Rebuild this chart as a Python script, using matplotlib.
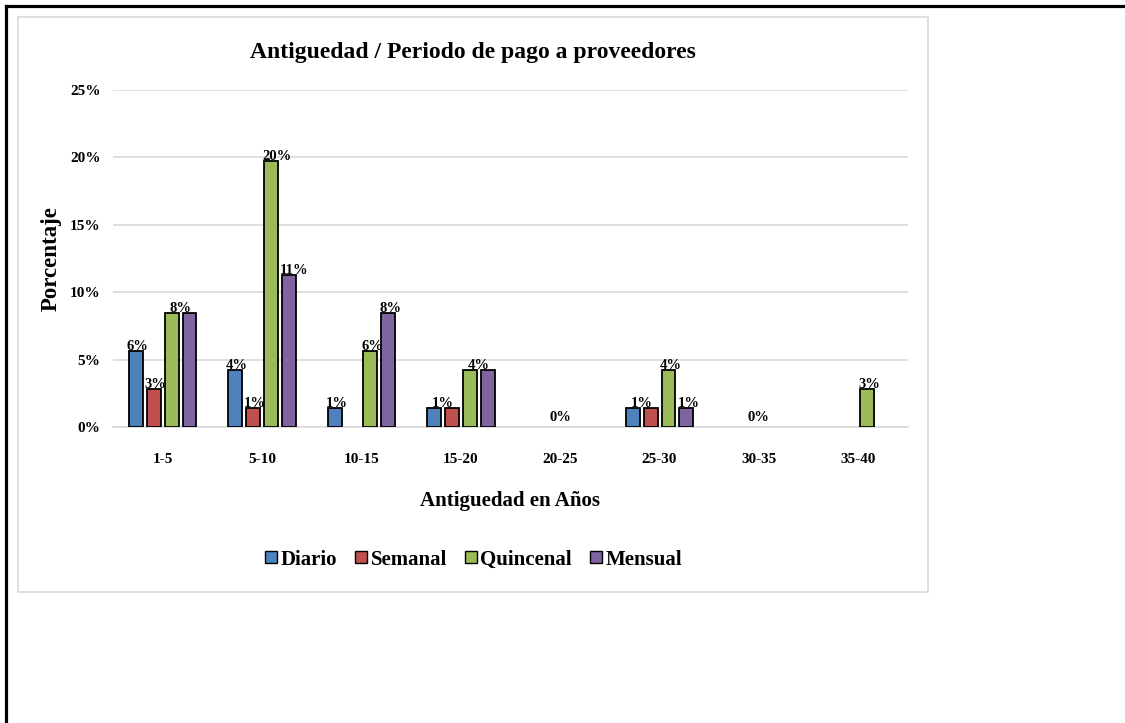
import numpy as np
import matplotlib.pyplot as plt
from matplotlib.patches import Rectangle
from matplotlib.lines import Line2D
from matplotlib.ticker import FuncFormatter

plt.rcParams['font.family'] = ['Liberation Serif', 'DejaVu Serif']
plt.rcParams['font.weight'] = 'bold'

categorias = ['1-5', '5-10', '10-15', '15-20', '20-25', '25-30', '30-35', '35-40']
diario = [5.63, 4.23, 1.41, 1.41, 0, 1.41, 0, 0]
semanal = [2.82, 1.41, 0, 1.41, 0, 1.41, 0, 0]
quincenal = [8.45, 19.72, 5.63, 4.23, 0, 4.23, 0, 2.82]
mensual = [8.45, 11.27, 8.45, 4.23, 0, 1.41, 0, 0]

series = [('Diario', diario, '#4f81bd'),
          ('Semanal', semanal, '#c0504d'),
          ('Quincenal', quincenal, '#9bbb59'),
          ('Mensual', mensual, '#8064a2')]

fig = plt.figure(figsize=(11.25, 7.23), dpi=100)

# marco exterior (solo arriba e izquierda)
fig.add_artist(Line2D([0.0053, 1.0], [0.9917, 0.9917], color='black', lw=2.3,
                      transform=fig.transFigure))
fig.add_artist(Line2D([0.0053, 0.0053], [0.0, 0.9917], color='black', lw=2.3,
                      transform=fig.transFigure))
# area del grafico
fig.add_artist(Rectangle((0.016, 0.181), 0.809, 0.795, fill=False,
                         edgecolor='#d9d9d9', lw=1.2, transform=fig.transFigure))

ax = fig.add_axes([0.1004, 0.4094, 0.7067, 0.4661])

x = np.arange(len(categorias))
ancho = 0.14
paso = 0.18
for i, (nombre, vals, color) in enumerate(series):
    vals = np.array(vals, dtype=float)
    pos = x + (i - 1.5) * paso
    hay = vals > 0
    ax.bar(pos[hay], vals[hay], ancho, color=color, edgecolor='black', lw=1.3,
           label=nombre, zorder=3)

# etiquetas: valores iguales en barras vecinas comparten una sola etiqueta
for xi in x:
    grupo = [(i, s[1][xi]) for i, s in enumerate(series)]
    if all(v == 0 for _, v in grupo):
        ax.text(xi, 0.25, '0%', ha='center', va='bottom', fontsize=10.5,
                fontweight='bold')
        continue
    i = 0
    while i < len(grupo):
        v = grupo[i][1]
        if v <= 0:
            i += 1
            continue
        j = i
        while (j + 1 < len(grupo) and grupo[j + 1][1] > 0
               and round(grupo[j + 1][1]) == round(v)):
            j += 1
        p_ini = xi + (i - 1.5) * paso
        p_fin = xi + (j - 1.5) * paso
        alto = max(grupo[k][1] for k in range(i, j + 1))
        if j > i:
            ax.text((p_ini + p_fin) / 2, alto - 0.15, f'{v:.0f}%', ha='center',
                    va='bottom', fontsize=10.5, fontweight='bold', zorder=4)
        else:
            ax.text(p_ini - ancho / 2 - 0.02, alto - 0.15, f'{v:.0f}%', ha='left',
                    va='bottom', fontsize=10.5, fontweight='bold', zorder=4)
        i = j + 1

ax.set_ylim(0, 25)
ax.set_xlim(-0.5, len(categorias) - 0.5)
ax.set_yticks(np.arange(0, 26, 5))
ax.yaxis.set_major_formatter(FuncFormatter(lambda v, _: f'{v:.0f}%'))
ax.set_xticks(x)
ax.set_xticklabels(categorias)
ax.grid(axis='y', color='#d9d9d9', lw=1.2, zorder=0)
for lado in ['top', 'right', 'left']:
    ax.spines[lado].set_visible(False)
ax.spines['bottom'].set_color('#d9d9d9')
ax.spines['bottom'].set_linewidth(1.2)
ax.tick_params(axis='both', length=0, labelsize=11)
ax.tick_params(axis='y', pad=9)
ax.tick_params(axis='x', pad=19)
for t in ax.get_xticklabels() + ax.get_yticklabels():
    t.set_fontweight('bold')

ax.set_xlabel('Antiguedad en Años', fontsize=15, fontweight='bold', labelpad=18)
ax.set_ylabel('Porcentaje', fontsize=16.5, fontweight='bold', labelpad=6)

fig.text(0.42, 0.928, 'Antiguedad / Periodo de pago a proveedores', ha='center',
         va='center', fontsize=17, fontweight='bold')

handles = [Line2D([], [], marker='s', ls='none', markersize=9,
                  markerfacecolor=c, markeredgecolor='black', markeredgewidth=1.0)
           for _, _, c in series]
fig.legend(handles, [s[0] for s in series], loc='center', ncol=4,
           bbox_to_anchor=(0.42, 0.226), frameon=False, fontsize=15,
           handletextpad=0.05, columnspacing=0.75, handlelength=0.8)

fig.savefig('out.png', dpi=100)
